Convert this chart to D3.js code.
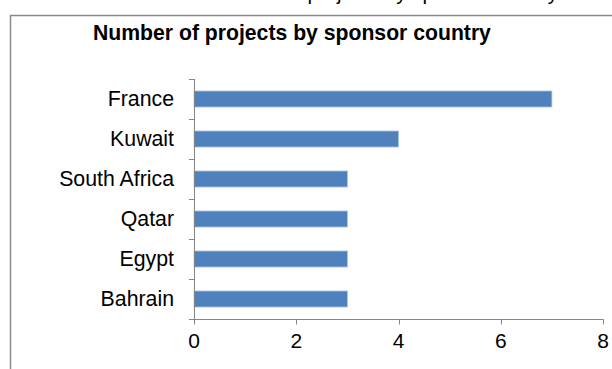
<!DOCTYPE html>
<html>
<head>
<meta charset="utf-8">
<script src="https://cdn.jsdelivr.net/npm/d3@7"></script>
<style>
  html, body { margin: 0; padding: 0; background: #fff; }
  svg { display: block; font-family: "Liberation Sans", Arial, sans-serif; }
</style>
</head>
<body>
<svg id="chart" width="612" height="369"></svg>
<script>
// Sponsor countries, top to bottom, and their project counts
const countries = ["France", "Kuwait", "South Africa", "Qatar", "Egypt", "Bahrain"];
const projects = [7, 4, 3, 3, 3, 3];
const xTicks = [0, 2, 4, 6, 8];
const chartTitle = "Number of projects by sponsor country";

const svg = d3.select("#chart");
const axisColor = "#868686";

// Caption of the surrounding page, mostly outside the frame
svg.append("text")
  .attr("x", 206).attr("y", 0)
  .attr("font-size", 20.5)
  .attr("fill", "#000")
  .text(chartTitle);

// Chart area frame
svg.append("rect")
  .attr("x", 10.5).attr("y", 15.5)
  .attr("width", 700).attr("height", 400)
  .attr("fill", "#fff")
  .attr("stroke", "#8a8a8a")
  .attr("stroke-width", 1.5);

// Chart title
svg.append("text")
  .attr("x", 93).attr("y", 40)
  .attr("font-size", 21.2)
  .attr("font-weight", "bold")
  .attr("fill", "#000")
  .text(chartTitle);

const x = d3.scaleLinear().domain([0, 8]).range([194, 603]);
const y = d3.scaleBand().domain(countries).range([79, 319])
  .paddingInner(0.6).paddingOuter(0.3);

// Bars
svg.append("g").selectAll("rect")
  .data(countries)
  .join("rect")
  .attr("x", x(0))
  .attr("y", d => y(d))
  .attr("width", (d, i) => x(projects[i]) - x(0))
  .attr("height", y.bandwidth())
  .attr("fill", "#4F81BD")
  .attr("stroke", "#a9c1df")
  .attr("stroke-width", 0.8);

// Category axis: line, boundary ticks, labels
const yAxis = svg.append("g").attr("stroke", axisColor).attr("stroke-width", 1);
yAxis.append("line")
  .attr("x1", x(0) + 0.5).attr("x2", x(0) + 0.5)
  .attr("y1", 79).attr("y2", 319);
const step = y.step();
const bounds = d3.range(countries.length + 1).map(i => 79 + i * step);
yAxis.selectAll("line.tick")
  .data(bounds)
  .join("line")
  .attr("class", "tick")
  .attr("x1", x(0) - 5).attr("x2", x(0) + 0.5)
  .attr("y1", d => Math.round(d) + 0.5).attr("y2", d => Math.round(d) + 0.5);

svg.append("g").selectAll("text")
  .data(countries)
  .join("text")
  .attr("x", 174)
  .attr("y", d => y(d) + y.bandwidth() / 2)
  .attr("dy", "0.35em")
  .attr("text-anchor", "end")
  .attr("font-size", 21.3)
  .attr("fill", "#000")
  .text(d => d);

// Value axis
const xAxisG = svg.append("g").attr("transform", "translate(0,319.5)");
xAxisG.append("line")
  .attr("x1", x(0)).attr("x2", x(8) + 0.5)
  .attr("stroke", axisColor);
xAxisG.selectAll("line.tick")
  .data(xTicks)
  .join("line")
  .attr("class", "tick")
  .attr("x1", d => Math.round(x(d)) + 0.5).attr("x2", d => Math.round(x(d)) + 0.5)
  .attr("y1", 0).attr("y2", 5)
  .attr("stroke", axisColor);
xAxisG.selectAll("text")
  .data(xTicks)
  .join("text")
  .attr("x", d => x(d))
  .attr("y", 28)
  .attr("text-anchor", "middle")
  .attr("font-size", 21)
  .attr("fill", "#000")
  .text(d => d);
</script>
</body>
</html>
